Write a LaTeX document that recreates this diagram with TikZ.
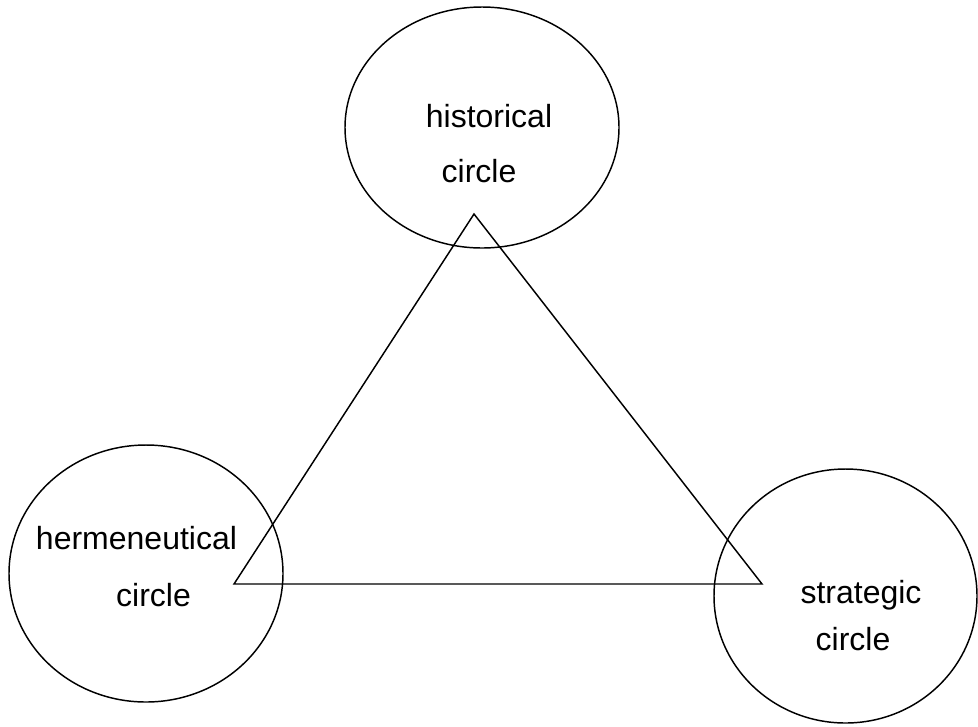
\documentclass[tikz,border=0pt]{standalone}
\usepackage{fontspec}
\setmainfont{Liberation Sans}
\usetikzlibrary{shapes.geometric}
\begin{document}
\begin{tikzpicture}[x=0.75pt,y=-0.75pt,
  circ/.style={draw,ellipse,line width=1.1pt,inner sep=0pt},
  lbl/.style={anchor=base,inner sep=0pt,font=\fontsize{24pt}{28pt}\selectfont},
  tri/.style={draw,line width=1.1pt,line join=miter}]
\useasboundingbox (0,0) rectangle (978,726);
% circles
\node[circ,minimum width=205.5pt,minimum height=180.75pt] (hist) at (482,127.5) {};
\node[circ,minimum width=205.5pt,minimum height=192.75pt] (herm) at (146,573.5) {};
\node[circ,minimum width=197.25pt,minimum height=190.5pt] (strat) at (845.5,596) {};
% triangle
\coordinate (apex) at (474,214);
\coordinate (bl) at (234,584);
\coordinate (br) at (762,584);
\draw[tri] (apex) -- (bl) -- (br) -- cycle;
% labels
\node[lbl] (t1) at (489,127) {historical};
\node[lbl] (t2) at (479,182) {circle};
\node[lbl] (l1) at (136.5,549) {hermeneutical};
\node[lbl] (l2) at (153.5,606) {circle};
\node[lbl] (r1) at (861,603) {strategic};
\node[lbl] (r2) at (853,650) {circle};
\end{tikzpicture}
\end{document}
